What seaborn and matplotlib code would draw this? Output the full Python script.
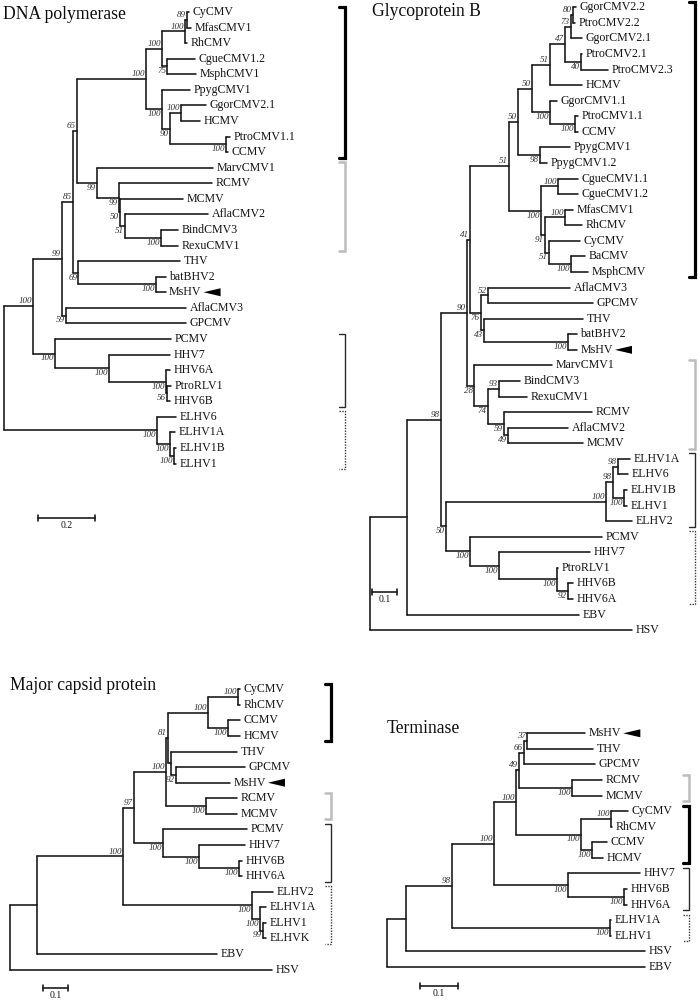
import matplotlib
matplotlib.use("Agg")
import matplotlib.pyplot as plt
from matplotlib.patches import Polygon
import pandas as pd
import seaborn as sns

# Trees in Newick form: branch lengths in substitutions/site,
# bootstrap support written as the label of each internal node
dnapol_tree = """
(((((((((CyCMV:0.007,MfasCMV1:0.014)89:0.007,RhCMV:0.007)100:0.081,
(CgueCMV1.2:0.098,MsphCMV1:0.102)75:0.018)100:0.056,
(PpygCMV1:0.098,((GgorCMV2.1:0.088,HCMV:0.067)100:0.039,
(PtroCMV1.1:0.014,CCMV:0.007)100:0.196)90:0.028)100:0.056)100:0.242,
(MarvCMV1:0.407,(RCMV:0.326,(MCMV:0.221,(AflaCMV2:0.291,
(BindCMV3:0.060,RexuCMV1:0.060)100:0.126)51:0.018)50:0.004)99:0.077)99:0.070)65:0.014,
(THV:0.358,(batBHV2:0.032,MsHV:0.032)100:0.274)69:0.018)85:0.039,
(AflaCMV3:0.421,GPCMV:0.421)59:0.014)99:0.102,
(PCMV:0.407,(HHV7:0.214,(HHV6A:0.014,(PtroRLV1:0.014,HHV6B:0.011)56:0.004)100:0.200)100:0.189)100:0.077)100:0.102,
(ELHV6:0.067,(ELHV1A:0.018,(ELHV1B:0.007,ELHV1:0.007)100:0.014)100:0.046)100:0.537):0.130,
(EBV:0.502,HSV:0.747)100:0.175);
"""

gb_tree = """
((((((((((((GgorCMV2.2:0.012,PtroCMV2.2:0.008)80:0.008,GgorCMV2.1:0.044)73:0.024,
(PtroCMV2.1:0.004,PtroCMV2.3:0.108)40:0.064)47:0.060,HCMV:0.128)51:0.072,
(GgorCMV1.1:0.028,(PtroCMV1.1:0.012,CCMV:0.012)100:0.100)100:0.072)50:0.056,
(PpygCMV1:0.120,PpygCMV1.2:0.028)98:0.088)50:0.036,
((CgueCMV1.1:0.080,CgueCMV1.2:0.080)100:0.068,((MfasCMV1:0.032,RhCMV:0.068)100:0.080,
(CyCMV:0.124,(BaCMV:0.056,MsphCMV:0.068)100:0.088)51:0.016)91:0.016)100:0.128)51:0.156,
((AflaCMV3:0.328,GPCMV:0.420)52:0.028,(THV:0.396,(batBHV2:0.036,MsHV:0.036)100:0.336)43:0.012)76:0.044)41:0.012,
(MarvCMV1:0.312,((BindCMV3:0.084,RexuCMV1:0.112)93:0.044,
(RCMV:0.352,(AflaCMV2:0.240,MCMV:0.300)49:0.016)59:0.064)74:0.056)28:0.028)90:0.104,
((((ELHV1A:0.048,ELHV6:0.040)98:0.020,(ELHV1B:0.012,ELHV1:0.012)100:0.044)98:0.028,ELHV2:0.104)100:0.640,
(PCMV:0.528,(HHV7:0.364,(PtroRLV1:0.004,(HHV6B:0.020,HHV6A:0.020)92:0.044)100:0.232)100:0.116)100:0.096)50:0.020)98:0.136,
EBV:0.688):0.148,HSV:1.048);
"""

mcp_tree = """
((((((((CyCMV:0.008,RhCMV:0.008)100:0.120,(CCMV:0.048,HCMV:0.048)100:0.080)100:0.160,
(THV:0.264,(GPCMV:0.276,MsHV:0.216)92:0.020):0.012)81:0.008,
(RCMV:0.124,MCMV:0.124)100:0.160)100:0.128,
(PCMV:0.336,(HHV7:0.184,(HHV6B:0.012,HHV6A:0.012)100:0.160)100:0.144)100:0.116)97:0.044,
(ELHV2:0.084,(ELHV1A:0.024,(ELHV1:0.012,ELHVK:0.012)99:0.012)100:0.032)100:0.516)100:0.344,
EBV:0.720):0.108,HSV:1.048);
"""

term_tree = """
((((((((MsHV:0.153,THV:0.174)37:0.008,GPCMV:0.187)66:0.013,(RCMV:0.079,MCMV:0.079)100:0.139)49:0.008,
((CyCMV:0.045,RhCMV:0.003)100:0.079,(CCMV:0.039,HCMV:0.029)100:0.029)100:0.171)100:0.058,
(HHV7:0.189,(HHV6B:0.008,HHV6A:0.008)100:0.147)100:0.195)100:0.111,
(ELHV1A:0.003,ELHV1:0.003)100:0.416)98:0.121,HSV:0.629):0.050,EBV:0.679);
"""

# bracketed groups on the right: first leaf, last leaf, bracket kind
dnapol_groups = [("CyCMV", "CCMV", "thick"), ("MarvCMV1", "RexuCMV1", "grey"),
                 ("PCMV", "HHV6B", "thin"), ("ELHV6", "ELHV1", "dotted")]
gb_groups = [("GgorCMV2.2", "MsphCMV", "thick"), ("MarvCMV1", "MCMV", "grey"),
             ("ELHV1A", "ELHV2", "thin"), ("PCMV", "HHV6A", "dotted")]
mcp_groups = [("CyCMV", "HCMV", "thick"), ("RCMV", "MCMV", "grey"),
              ("PCMV", "HHV6A", "thin"), ("ELHV2", "ELHVK", "dotted")]
term_groups = [("RCMV", "MCMV", "grey"), ("CyCMV", "HCMV", "thick"),
               ("HHV7", "HHV6A", "thin"), ("ELHV1A", "ELHV1", "dotted")]

titles = ["DNA polymerase", "Glycoprotein B", "Major capsid protein", "Terminase"]
bar_lengths = [0.2, 0.1, 0.1, 0.1]
marked_leaf = "MsHV"


def parse(s):
    s = "".join(s.split()).rstrip(";")
    pos = 0

    def node():
        nonlocal pos
        n = {"children": [], "name": "", "len": 0.0}
        if s[pos] == "(":
            pos += 1
            n["children"].append(node())
            while s[pos] == ",":
                pos += 1
                n["children"].append(node())
            pos += 1
        start = pos
        while pos < len(s) and s[pos] not in ",():":
            pos += 1
        n["name"] = s[start:pos]
        if pos < len(s) and s[pos] == ":":
            pos += 1
            start = pos
            while pos < len(s) and s[pos] not in ",()":
                pos += 1
            n["len"] = float(s[start:pos])
        return n

    return node()


def place(n, x, leaves):
    n["x"] = x
    if not n["children"]:
        n["y"] = len(leaves)
        leaves.append(n)
    else:
        for c in n["children"]:
            place(c, x + c["len"], leaves)
        n["y"] = (n["children"][0]["y"] + n["children"][-1]["y"]) / 2


def collect(n, rows, support, first=True):
    if not n["children"]:
        return
    if n["name"]:
        support.append((n, first))
    seg = len(rows)
    kids = n["children"]
    rows.append((n["x"], kids[0]["y"], seg))
    rows.append((n["x"], kids[-1]["y"], seg))
    for i, c in enumerate(kids):
        seg = len(rows)
        rows.append((n["x"], c["y"], seg))
        rows.append((c["x"], c["y"], seg))
        collect(c, rows, support, i == 0)


sns.set_theme(style="white")
plt.rcParams["font.family"] = ["Liberation Serif", "DejaVu Serif"]

W, H = 700, 1002
STEP = 15.57
INK = "#141414"
bracket_style = {
    "thick": dict(color="black", lw=2.3),
    "grey": dict(color="#bcbcbc", lw=1.8),
    "thin": dict(color="#2a2a2a", lw=1.0),
    "dotted": dict(color="#3a3a3a", lw=1.0, ls=(0, (1, 1))),
}

# pixel layout of each panel
layout = [
    dict(box=(0, 0, 352, 545), root=4, scale=285, top=12.0, title_xy=(3, 19), bar_xy=(38, 518), bracket_x=345),
    dict(box=(352, 0, 348, 640), root=370, scale=250, top=7.3, title_xy=(372, 16), bar_xy=(372, 592), bracket_x=695),
    dict(box=(0, 645, 352, 357), root=10, scale=250, top=689.3, title_xy=(10, 690), bar_xy=(43, 988), bracket_x=331),
    dict(box=(352, 645, 348, 357), root=387, scale=380, top=733.3, title_xy=(387, 733), bar_xy=(420, 986), bracket_x=689),
]
trees = [dnapol_tree, gb_tree, mcp_tree, term_tree]
groups = [dnapol_groups, gb_groups, mcp_groups, term_groups]

fig = plt.figure(figsize=(W / 100, H / 100), dpi=100)
fig.patch.set_facecolor("white")
marks = []

for tree, grp, title, bar, p in zip(trees, groups, titles, bar_lengths, layout):
    root = parse(tree)
    leaves = []
    place(root, 0.0, leaves)
    rows, support = [], []
    collect(root, rows, support)
    df = pd.DataFrame(rows, columns=["x", "y", "seg"])

    L, T, w, h = p["box"]
    ax = fig.add_axes([L / W, 1 - (T + h) / H, w / W, h / H])
    sns.lineplot(data=df, x="x", y="y", units="seg", estimator=None, sort=False,
                 color=INK, lw=1.15, ax=ax, legend=False)

    def px2x(px, p=p):
        return (px - p["root"]) / p["scale"]

    def py2y(py):
        return (py - p["top"]) / STEP

    ax.set_xlim(px2x(L), px2x(L + w))
    ax.set_ylim(py2y(T + h), py2y(T))
    ax.axis("off")

    for lf in leaves:
        t = ax.annotate(lf["name"], (lf["x"], lf["y"]), xytext=(2.5, 0), textcoords="offset points",
                        va="center", ha="left", fontsize=8.6, color=INK)
        if lf["name"] == marked_leaf:
            marks.append((ax, t))

    for n, first in support:
        ax.annotate(n["name"], (n["x"], n["y"]), xytext=(-0.8, 0.6 if first else -0.6),
                    textcoords="offset points", ha="right", va="bottom" if first else "top",
                    fontsize=6.5, style="italic", color="#2e2e2e")

    ypos = {lf["name"]: lf["y"] for lf in leaves}
    xb, xt = px2x(p["bracket_x"]), px2x(p["bracket_x"] - 6)
    for a, b, kind in grp:
        y0, y1 = ypos[a] - 0.35, ypos[b] + 0.35
        ax.plot([xt, xb, xb, xt], [y0, y0, y1, y1], clip_on=False,
                solid_joinstyle="miter", **bracket_style[kind])

    bx, by = p["bar_xy"]
    x0, yb = px2x(bx), py2y(by)
    ax.plot([x0, x0 + bar], [yb, yb], color=INK, lw=1.15, clip_on=False)
    for xe in (x0, x0 + bar):
        ax.plot([xe, xe], [yb - 0.2, yb + 0.2], color=INK, lw=1.15, clip_on=False)
    ax.annotate(f"{bar:g}", (x0 + bar / 2, yb), xytext=(0, -2.5), textcoords="offset points",
                ha="center", va="top", fontsize=7, color=INK)

    tx, ty = p["title_xy"]
    fig.text(tx / W, 1 - ty / H, title, fontsize=12.7, ha="left", va="baseline", color="#0d0d0d")

# small black arrowheads pointing at MsHV
fig.canvas.draw()
renderer = fig.canvas.get_renderer()
for ax, t in marks:
    bb = t.get_window_extent(renderer)
    x1, yc = bb.x1 + 2, (bb.y0 + bb.y1) / 2
    pts = ax.transData.inverted().transform([(x1, yc), (x1 + 17, yc + 4), (x1 + 17, yc - 4)])
    ax.add_patch(Polygon(pts, closed=True, color="black", lw=0, clip_on=False))

fig.savefig("out.png", dpi=100, facecolor="white")
